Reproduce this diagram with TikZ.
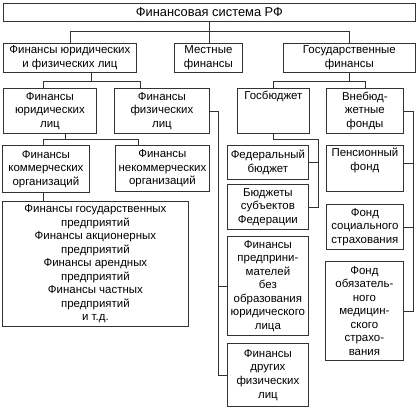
\documentclass[tikz,border=0pt]{standalone}
\usepackage{fontspec}
\setmainfont{Liberation Sans}
\begin{document}
\begin{tikzpicture}[x=1bp,y=-1bp,
  box/.style={draw=black!80, line width=0.8bp, anchor=north west, inner sep=0pt, align=center,
    font=\fontsize{11.5}{13.6}\selectfont, text=black},
  lbl/.style={inner sep=1bp, align=center, font=\fontsize{11.5}{13.6}\selectfont, text=black},
  conn/.style={draw=black!80, line width=0.8bp}]
\useasboundingbox (0,0) rectangle (418,407);
% row 1
\node[box, minimum width=412bp, minimum height=18bp, font=\fontsize{12.9}{14}\selectfont] (top) at (3,3) {Финансовая система РФ};
% row 2
\node[box, minimum width=133bp, minimum height=29bp] (A) at (3,43) {Финансы юридических\\и физических лиц};
\node[box, minimum width=68bp, minimum height=29bp] (M) at (174,43) {Местные\\финансы};
\node[box, minimum width=132bp, minimum height=29bp] (C) at (283,43) {Государственные\\финансы};
% row 3
\node[box, minimum width=93bp, minimum height=45bp] (JL) at (3,88) {Финансы\\юридических\\лиц};
\node[box, minimum width=95bp, minimum height=45bp] (FL) at (114,88) {Финансы\\физических\\лиц};
\node[box, minimum width=72bp, minimum height=45bp] (GB) at (237,88) {};
\node[lbl, anchor=north] at ([yshift=-2bp]GB.north) {Госбюджет};
\node[box, minimum width=77bp, minimum height=45bp] (VB) at (326,88) {Внебюд-\\жетные\\фонды};
% row 4 left
\node[box, minimum width=87bp, minimum height=47bp] (K) at (2,145) {Финансы\\коммерческих\\организаций};
\node[box, minimum width=94bp, minimum height=46bp] (NK) at (115,145) {Финансы\\некоммерческих\\организаций};
\node[box, minimum width=186bp, minimum height=125bp] (BB) at (2,201) {Финансы государственных\\предприятий\\Финансы акционерных\\предприятий\\Финансы арендных\\предприятий\\Финансы частных\\предприятий\\и т.д.};
% middle column
\node[box, minimum width=81bp, minimum height=34bp] (FB) at (227,145) {Федеральный\\бюджет};
\node[box, minimum width=81bp, minimum height=45bp] (BS) at (227,184) {Бюджеты\\субъектов\\Федерации};
\node[box, minimum width=81bp, minimum height=99bp] (FP) at (227,236) {Финансы\\предприни-\\мателей\\без\\образования\\юридического\\лица};
\node[box, minimum width=81bp, minimum height=63bp] (DF) at (227,343) {Финансы\\других\\физических\\лиц};
% right column
\node[box, minimum width=77bp, minimum height=46bp] (PF) at (326,145) {};
\node[lbl, anchor=north] at ([yshift=-2bp]PF.north) {Пенсионный\\фонд};
\node[box, minimum width=77bp, minimum height=45bp] (FS) at (326,204) {Фонд\\социального\\страхования};
\node[box, minimum width=78bp, minimum height=99bp] (FO) at (325,261) {Фонд\\обязатель-\\ного\\медицин-\\ского\\страхо-\\вания};
% connectors
\coordinate (b1) at (0,31);
\draw[conn] (top.south) -- (top.south |- M.north);
\draw[conn] (A.north) -- (A.north |- b1) -- (C.north |- b1) -- (C.north);
\coordinate (b2a) at (91,81);
\coordinate (b2b) at (43,81);
\coordinate (b2c) at (140,81);
\draw[conn] (A.south -| b2a) -- (b2a);
\draw[conn] (JL.north -| b2b) -- (b2b) -- (b2c) -- (FL.north -| b2c);
\coordinate (b2r) at (0,81);
\draw[conn] (C.south) -- (C.south |- b2r);
\draw[conn] (GB.north) -- (GB.north |- b2r) -- (VB.north |- b2r) -- (VB.north);
\coordinate (b3) at (65,139);
\coordinate (b3a) at (43,139);
\coordinate (b3b) at (138,139);
\draw[conn] (JL.south -| b3) -- (b3);
\draw[conn] (K.north -| b3a) -- (b3a) -- (b3b) -- (NK.north -| b3b);
\draw[conn] (K.south -| b3a) -- (BB.north -| b3a);
\coordinate (sx) at (218,0);
\draw[conn] (FL.east) -- (FL.east -| sx) -- (DF.west -| sx) -- (DF.west);
\draw[conn] (FP.west -| sx) -- (FP.west);
\coordinate (gx) at (318,139);
\draw[conn] (GB.south) -- (GB.south |- gx) -- (gx) -- (gx |- BS.east) -- (BS.east);
\draw[conn] (FB.east -| gx) -- (FB.east);
\coordinate (vx) at (413,0);
\draw[conn] (VB.east) -- (VB.east -| vx) -- (FO.east -| vx) -- (FO.east);
\draw[conn] ([yshift=5bp]PF.east -| vx) -- ([yshift=5bp]PF.east);
\draw[conn] (FS.east -| vx) -- (FS.east);
\end{tikzpicture}
\end{document}
